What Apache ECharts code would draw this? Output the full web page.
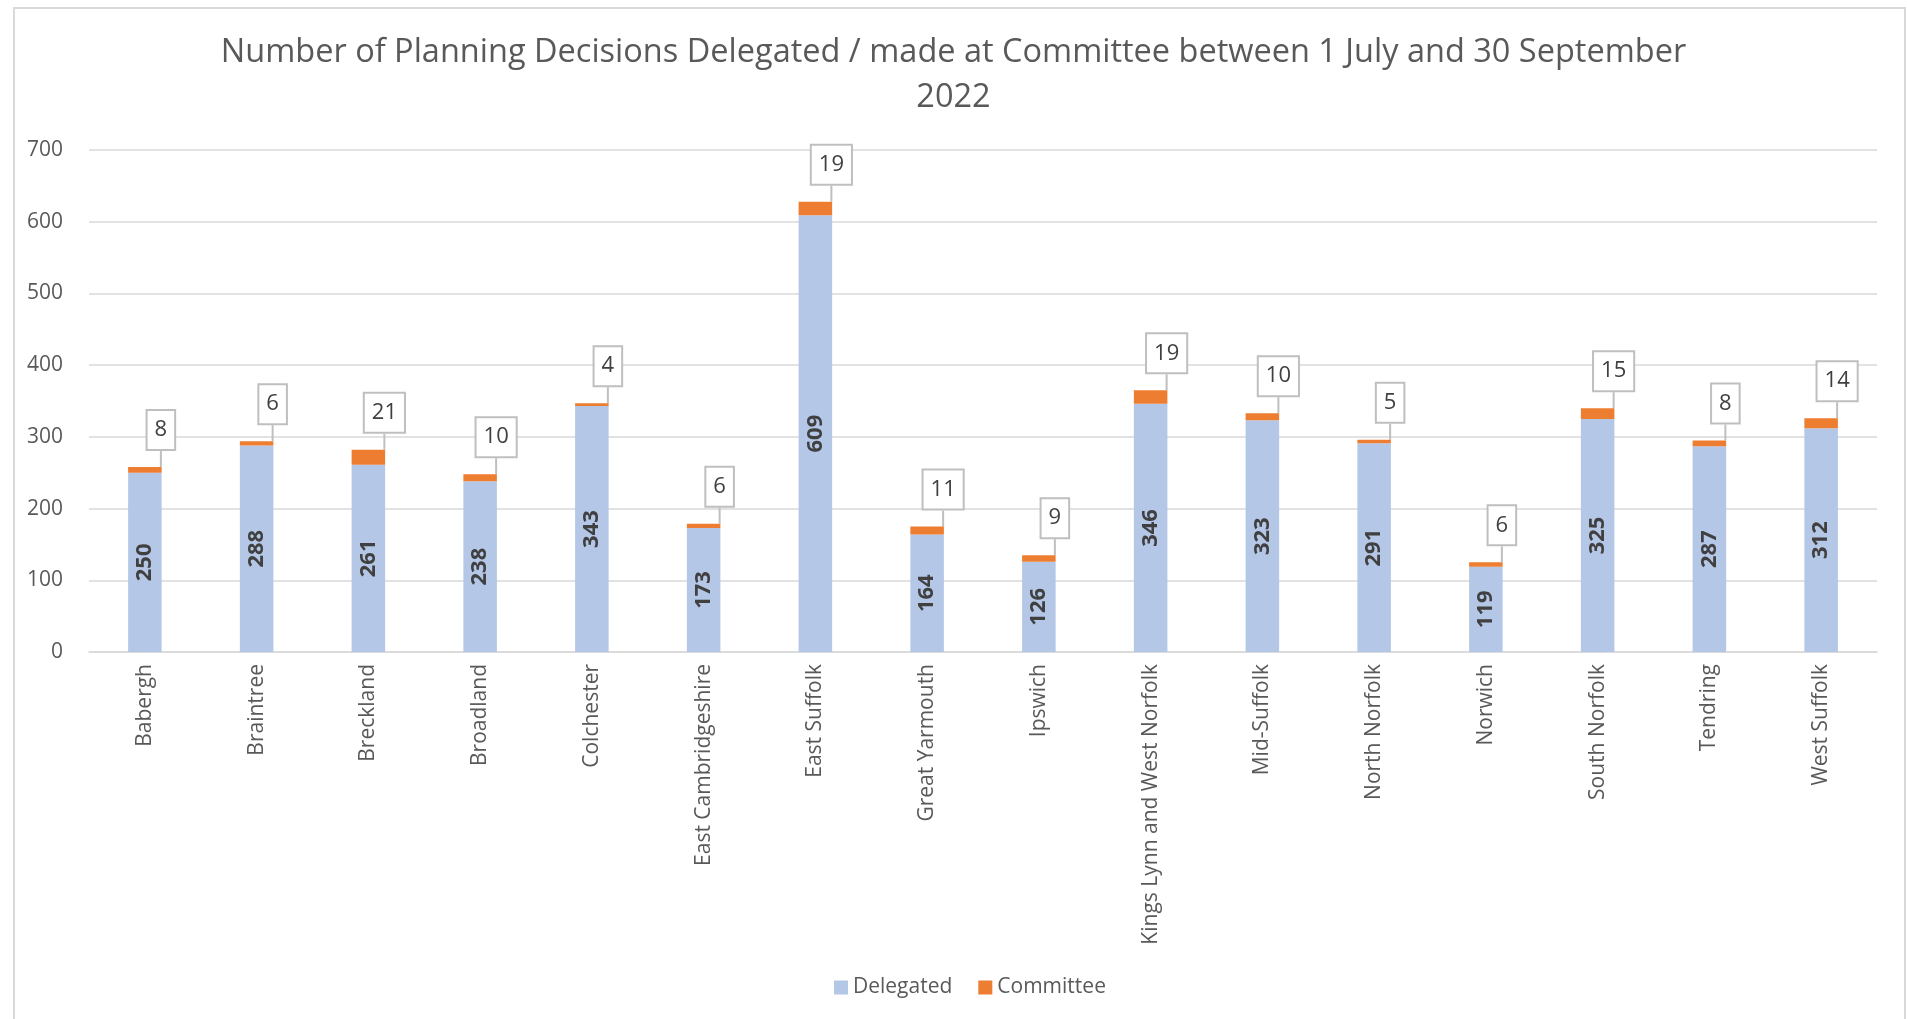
<!DOCTYPE html>
<html>
<head>
<meta charset="utf-8">
<script src="https://cdn.jsdelivr.net/npm/echarts@6/dist/echarts.min.js"></script>
<style>
html,body{margin:0;padding:0;background:#fff;}
#chart{width:1907px;height:1019px;}
</style>
</head>
<body>
<div id="chart"></div>
<script>
const categories = ['Babergh','Braintree','Breckland','Broadland','Colchester','East Cambridgeshire','East Suffolk','Great Yarmouth','Ipswich','Kings Lynn and West Norfolk','Mid-Suffolk','North Norfolk','Norwich','South Norfolk','Tendring','West Suffolk'];
const delegated = [250,288,261,238,343,173,609,164,126,346,323,291,119,325,287,312];
const committee = [8,6,21,10,4,6,19,11,9,19,10,5,6,15,8,14];
const yTicks = [0,100,200,300,400,500,600,700];

const FONT = '"Open Sans", "Noto Sans", sans-serif';
const chart = echarts.init(document.getElementById('chart'));
chart.setOption({
  backgroundColor: '#ffffff',
  animation: false,
  title: {
    text: 'Number of Planning Decisions Delegated / made at Committee between 1 July and 30 September\n2022',
    left: 'center',
    top: 25,
    textStyle: {fontFamily: FONT, fontSize: 32.5, fontWeight: 'normal', color: '#595959', lineHeight: 45}
  },
  graphic: [{
    type: 'rect', shape: {x: 14, y: 8, width: 1891, height: 1030},
    style: {fill: 'none', stroke: '#D9D9D9', lineWidth: 2}, silent: true
  }],
  legend: {
    bottom: 16, left: 829,
    itemWidth: 14, itemHeight: 14, itemGap: 26, icon: 'rect',
    textStyle: {fontFamily: FONT, fontSize: 21, color: '#595959'},
    data: ['Delegated', 'Committee']
  },
  grid: {left: 89, right: 30, top: 150, bottom: 367, containLabel: false},
  xAxis: {
    type: 'category', data: categories,
    axisLine: {lineStyle: {color: '#D9D9D9', width: 1.5}},
    axisTick: {show: false},
    axisLabel: {interval: 0, rotate: 90, margin: 12, fontFamily: FONT, fontSize: 21, color: '#595959'}
  },
  yAxis: {
    type: 'value', min: yTicks[0], max: yTicks[yTicks.length - 1], interval: yTicks[1] - yTicks[0],
    axisLine: {show: false}, axisTick: {show: false},
    splitLine: {lineStyle: {color: '#D9D9D9', width: 1.5}},
    axisLabel: {margin: 26, fontFamily: FONT, fontSize: 21, color: '#595959'}
  },
  series: [{
    name: 'Delegated', type: 'bar', stack: 'total', data: delegated, barWidth: '30%',
    itemStyle: {color: '#B4C7E7'},
    label: {show: true, position: 'inside', rotate: 90, fontFamily: FONT, fontSize: 22, fontWeight: 'bold', color: '#404040'}
  }, {
    name: 'Committee', type: 'bar', stack: 'total', data: committee,
    itemStyle: {color: '#ED7D31'},
    label: {
      show: true, position: 'top', distance: 0, fontFamily: FONT, fontSize: 22, color: '#404040',
      backgroundColor: '#ffffff', borderColor: '#BFBFBF', borderWidth: 2, padding: [8, 7]
    },
    labelLayout: {dx: 16, dy: -18},
    labelLine: {show: true, lineStyle: {color: '#BFBFBF', width: 2}}
  }]
});
</script>
</body>
</html>
